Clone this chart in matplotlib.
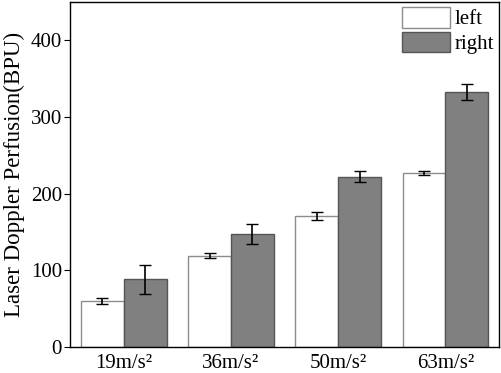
import numpy as np
import matplotlib.pyplot as plt

plt.rcParams['font.family'] = ['Liberation Serif', 'DejaVu Serif']

categories = ['19m/s²', '36m/s²', '50m/s²', '63m/s²']
left_vals = [60, 119, 171, 227]
left_err = [4, 3, 5, 3]
right_vals = [88, 147, 222, 333]
right_err = [19, 13, 7.5, 10.5]

fig = plt.figure(figsize=(5.01, 3.73), dpi=100)
ax = fig.add_axes([0.14, 0.07, 0.856, 0.925])

x = np.arange(len(categories))
w = 0.4
ekw = dict(elinewidth=1.2, capthick=1.0, ecolor='black')
ax.bar(x - w / 2, left_vals, w, yerr=left_err, capsize=4.5, color='white',
       edgecolor='#8c8c8c', linewidth=1.0, label='left', error_kw=ekw)
ax.bar(x + w / 2, right_vals, w, yerr=right_err, capsize=4.5, color='#808080',
       edgecolor='#555555', linewidth=1.0, label='right', error_kw=ekw)

ax.set_xlim(-0.5, 3.5)
ax.set_ylim(0, 450)
ax.set_yticks([0, 100, 200, 300, 400])
ax.set_xticks(x)
ax.set_xticklabels(categories)
ax.tick_params(axis='x', length=0, labelsize=15, pad=5)
ax.tick_params(axis='y', direction='out', length=4, labelsize=15, pad=2)
ax.set_ylabel('Laser Doppler Perfusion(BPU)', fontsize=16.5, labelpad=4)
for s in ax.spines.values():
    s.set_linewidth(1.0)

ax.legend(loc='upper right', frameon=False, fontsize=15, handlelength=2.3,
          handleheight=1.15, borderaxespad=0.15, borderpad=0.1,
          handletextpad=0.2, labelspacing=0.1)

fig.savefig('out.png', dpi=100)
